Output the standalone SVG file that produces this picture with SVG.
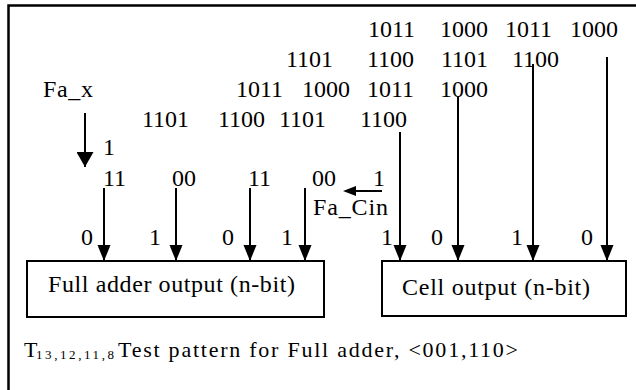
<svg xmlns="http://www.w3.org/2000/svg" width="636" height="390" viewBox="0 0 636 390">
<style>
text{font-family:"Liberation Serif","Times New Roman",serif;font-size:24px;fill:#000}
.cap{font-size:22px}
.sub{font-size:13px}
.box{fill:#fff;stroke:#000;stroke-width:2}
.ln{stroke:#000;stroke-width:2;fill:none}
</style>
<defs>
<marker id="ah" markerUnits="userSpaceOnUse" markerWidth="16" markerHeight="14" refX="16" refY="7" orient="auto" viewBox="0 0 16 14">
<path d="M0,0.5 L16,7 L0,13.5 Z" fill="#000"/>
</marker>
<marker id="ahb" markerUnits="userSpaceOnUse" markerWidth="15" markerHeight="17" refX="15" refY="8.5" orient="auto" viewBox="0 0 15 17">
<path d="M0,0 L15,8.5 L0,17 Z" fill="#000"/>
</marker>
</defs>
<rect x="8.5" y="5.5" width="700" height="500" fill="#fff" stroke="#000" stroke-width="2.5"/>
<g id="bits">
<text x="368" y="37">1011</text><text x="440" y="37">1000</text><text x="505" y="37">1011</text><text x="570" y="37">1000</text>
<text x="286" y="67">1101</text><text x="367" y="67">1100</text><text x="441" y="67">1101</text><text x="512" y="67">1100</text>
<text x="43" y="97" textLength="50">Fa_x</text>
<text x="236" y="97">1011</text><text x="302" y="97">1000</text><text x="367" y="97">1011</text><text x="440" y="97">1000</text>
<text x="142" y="127">1101</text><text x="218" y="127">1100</text><text x="279" y="127">1101</text><text x="360" y="127">1100</text>
<text x="103" y="155">1</text>
<text x="103" y="186">11</text><text x="172" y="186">00</text><text x="248" y="186">11</text><text x="312" y="186">00</text><text x="373" y="186">1</text>
<text x="313" y="215" textLength="75">Fa_Cin</text>
<text x="81" y="245">0</text><text x="149" y="245">1</text><text x="222" y="245">0</text><text x="281" y="245">1</text>
<text x="381" y="245">1</text><text x="431" y="245">0</text><text x="511" y="245">1</text><text x="581" y="245">0</text>
</g>
<g id="connectors">
<line class="ln" x1="85" y1="113" x2="85" y2="167" marker-end="url(#ahb)"/>
<line class="ln" x1="104" y1="188" x2="104" y2="261" marker-end="url(#ah)"/>
<line class="ln" x1="176" y1="188" x2="176" y2="261" marker-end="url(#ah)"/>
<line class="ln" x1="250" y1="188" x2="250" y2="261" marker-end="url(#ah)"/>
<line class="ln" x1="305" y1="188" x2="305" y2="261" marker-end="url(#ah)"/>
<line class="ln" x1="400" y1="132" x2="400" y2="261" marker-end="url(#ah)"/>
<line class="ln" x1="458" y1="97" x2="458" y2="261" marker-end="url(#ah)"/>
<line class="ln" x1="533" y1="64" x2="533" y2="261" marker-end="url(#ah)"/>
<line class="ln" x1="607" y1="57" x2="607" y2="261" marker-end="url(#ah)"/>
<line class="ln" x1="382" y1="191" x2="346" y2="191"/>
<path d="M343,191 L356,186 L356,196 Z" fill="#000"/>
</g>
<g id="full-adder">
<rect class="box" x="27" y="261" width="297" height="56"/>
<text x="48" y="292" textLength="247">Full adder output (n-bit)</text>
</g>
<g id="cell">
<rect class="box" x="382" y="261" width="244" height="55"/>
<text x="402" y="295" textLength="188">Cell output (n-bit)</text>
</g>
<g id="caption">
<text class="cap" x="24" y="357">T</text>
<text class="sub" x="36" y="359" textLength="78">13,12,11,8</text>
<text class="cap" x="118" y="357" textLength="400">Test pattern for Full adder, &lt;001,110&gt;</text>
</g>
</svg>
